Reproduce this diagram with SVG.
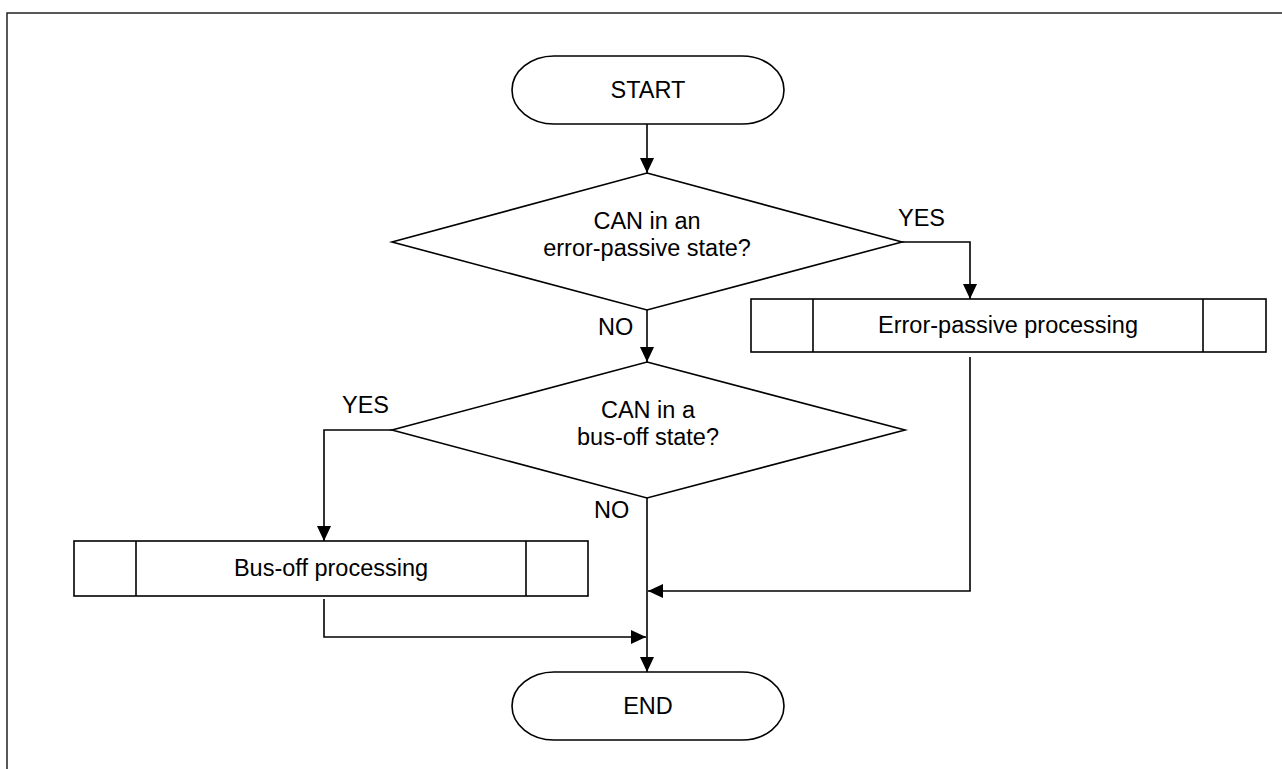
<svg xmlns="http://www.w3.org/2000/svg" width="1282" height="769" viewBox="0 0 1282 769">
<style>
.s{fill:#fff;stroke:#000;stroke-width:1.6}
.c{fill:none;stroke:#000;stroke-width:1.6}
text{font-family:"Liberation Sans",Arial,sans-serif;font-size:23.5px;fill:#000}
.m{text-anchor:middle}
</style>
<defs>
<marker id="ah" viewBox="0 0 15 14" refX="15" refY="7" markerWidth="15" markerHeight="14" markerUnits="userSpaceOnUse" orient="auto">
<path d="M0,0 L15,7 L0,14 Z" fill="#000"/>
</marker>
</defs>
<rect width="1282" height="769" fill="#fff"/>
<rect x="7" y="13" width="1320" height="820" fill="none" stroke="#222" stroke-width="1.5"/>
<g id="connectors">
<path class="c" d="M647,124 V173" marker-end="url(#ah)"/>
<path class="c" d="M647,310 V362" marker-end="url(#ah)"/>
<path class="c" d="M902,242 H970 V299" marker-end="url(#ah)"/>
<path class="c" d="M392,430 H324 V541" marker-end="url(#ah)"/>
<path class="c" d="M647,498 V672" marker-end="url(#ah)"/>
<path class="c" d="M970,357 V591 H648" marker-end="url(#ah)"/>
<path class="c" d="M324,599 V637 H646" marker-end="url(#ah)"/>
<text x="898" y="226">YES</text>
<text x="598" y="335">NO</text>
<text x="342" y="413">YES</text>
<text x="594" y="518">NO</text>
</g>
<g id="start">
<rect class="s" x="512" y="56" width="272" height="68" rx="42" ry="34"/>
<text class="m" x="648" y="98">START</text>
</g>
<g id="decision1">
<polygon class="s" points="647,173 902,242 647,310 392,242"/>
<text class="m" x="647" y="229">CAN in an</text>
<text class="m" x="647" y="256">error-passive state?</text>
</g>
<g id="errorPassive">
<rect class="s" x="751" y="299" width="515" height="53"/>
<line class="c" x1="813" y1="299" x2="813" y2="352"/>
<line class="c" x1="1203" y1="299" x2="1203" y2="352"/>
<text class="m" x="1008" y="333">Error-passive processing</text>
</g>
<g id="decision2">
<polygon class="s" points="647,362 905,430 647,498 392,430"/>
<text class="m" x="648" y="418">CAN in a</text>
<text class="m" x="648" y="445">bus-off state?</text>
</g>
<g id="busOff">
<rect class="s" x="74" y="541" width="514" height="55"/>
<line class="c" x1="136" y1="541" x2="136" y2="596"/>
<line class="c" x1="526" y1="541" x2="526" y2="596"/>
<text class="m" x="331" y="576">Bus-off processing</text>
</g>
<g id="end">
<rect class="s" x="512" y="672" width="272" height="68" rx="42" ry="34"/>
<text class="m" x="648" y="714">END</text>
</g>
</svg>
